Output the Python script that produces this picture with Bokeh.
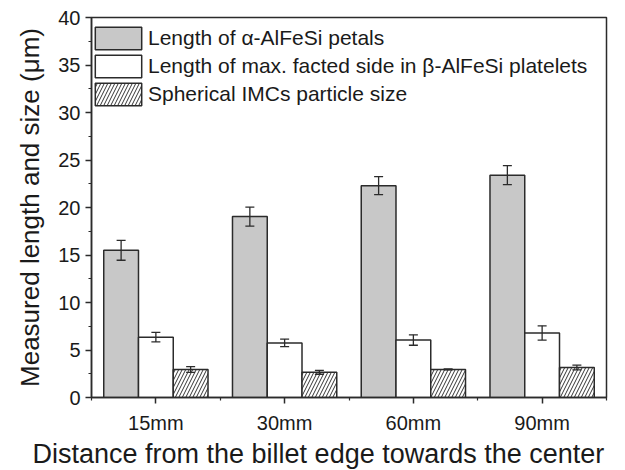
from bokeh.plotting import figure
from bokeh.models import (ColumnDataSource, FixedTicker, Whisker, TeeHead,
                          Legend, LegendItem, Range1d, Title)
from bokeh.embed import file_html
from bokeh.resources import INLINE

categories = ["15mm", "30mm", "60mm", "90mm"]
alpha_len = [15.5, 19.05, 22.3, 23.4]
alpha_err = [1.05, 1.0, 0.95, 1.0]
beta_len = [6.35, 5.75, 6.05, 6.8]
beta_err = [0.5, 0.4, 0.55, 0.75]
sph_size = [2.95, 2.65, 2.95, 3.15]
sph_err = [0.3, 0.2, 0.05, 0.25]
series_labels = ["Length of α-AlFeSi petals",
                 "Length of max. facted side in β-AlFeSi platelets",
                 "Spherical IMCs particle size"]
x_title = "Distance from the billet edge towards the center"
y_title = "Measured length and size (μm)"

FONT = "Liberation Sans"
TXT = "#1a1a1a"
EDGE = "#2b2b2b"

pos = [i + 1 for i in range(len(categories))]
bw = 0.27

p = figure(width=617, height=470, output_backend="svg", toolbar_location=None,
           x_range=Range1d(0.5, 4.5), y_range=Range1d(0, 40),
           min_border_left=91, min_border_right=11, min_border_top=17,
           min_border_bottom=73)
p.grid.visible = False
p.outline_line_color = EDGE
p.outline_line_width = 1.5
p.background_fill_color = "white"
p.border_fill_color = "white"

styles = [
    dict(fill_color="#c8c8c8"),
    dict(fill_color="white"),
    dict(fill_color="white", hatch_pattern="right_diagonal_line",
         hatch_color="#333333", hatch_scale=7, hatch_weight=1),
]
vals = [alpha_len, beta_len, sph_size]
errs = [alpha_err, beta_err, sph_err]
offsets = [-bw, 0, bw]
renderers = []
for v, e, off, st in zip(vals, errs, offsets, styles):
    src = ColumnDataSource(dict(
        x=[q + off for q in pos], top=v,
        upper=[a + b for a, b in zip(v, e)],
        lower=[a - b for a, b in zip(v, e)]))
    r = p.vbar(x="x", top="top", width=bw, source=src, line_color=EDGE,
               line_width=1.5, **st)
    renderers.append(r)
    w = Whisker(base="x", upper="upper", lower="lower", source=src,
                line_color=EDGE, line_width=1.3, level="overlay",
                upper_head=TeeHead(size=9, line_color=EDGE, line_width=1.3),
                lower_head=TeeHead(size=9, line_color=EDGE, line_width=1.3))
    p.add_layout(w)

legend = Legend(items=[LegendItem(label=l, renderers=[r])
                       for l, r in zip(series_labels, renderers)],
                location=(-2, 289), padding=0, spacing=0, margin=0,
                glyph_width=58, glyph_height=28, label_height=28,
                label_standoff=1, label_text_font=FONT,
                label_text_font_size="21px", label_text_color=TXT,
                border_line_alpha=0, background_fill_alpha=0)
p.add_layout(legend, "center")

p.xaxis.ticker = FixedTicker(ticks=pos, minor_ticks=[0.5, 1.5, 2.5, 3.5, 4.5])
p.xaxis.major_label_overrides = {q: c for q, c in zip(pos, categories)}
p.yaxis.ticker = FixedTicker(ticks=list(range(0, 41, 5)),
                             minor_ticks=[x * 2.5 for x in range(17)])

for ax in (p.xaxis, p.yaxis):
    ax.axis_line_color = EDGE
    ax.axis_line_width = 1.5
    ax.major_tick_line_color = EDGE
    ax.major_tick_line_width = 1.5
    ax.minor_tick_line_color = EDGE
    ax.minor_tick_line_width = 1.2
    ax.major_tick_out = 6
    ax.major_tick_in = 0
    ax.minor_tick_out = 3
    ax.minor_tick_in = 0
    ax.major_label_text_font = FONT
    ax.major_label_text_font_size = "20px"
    ax.major_label_text_color = TXT
    ax.axis_label_text_font = FONT
    ax.axis_label_text_font_style = "normal"
    ax.axis_label_text_color = TXT

p.yaxis.axis_label = y_title
p.yaxis.axis_label_text_font_size = "26px"
p.xaxis.major_label_standoff = 8
p.yaxis.major_label_standoff = 5
p.yaxis.axis_label_standoff = 10

xt = Title(text=x_title, align="left", offset=-59, standoff=0,
           text_font=FONT, text_font_size="27px", text_font_style="normal",
           text_color=TXT)
p.add_layout(xt, "below")

open("out.html", "w").write(file_html(p, INLINE))
